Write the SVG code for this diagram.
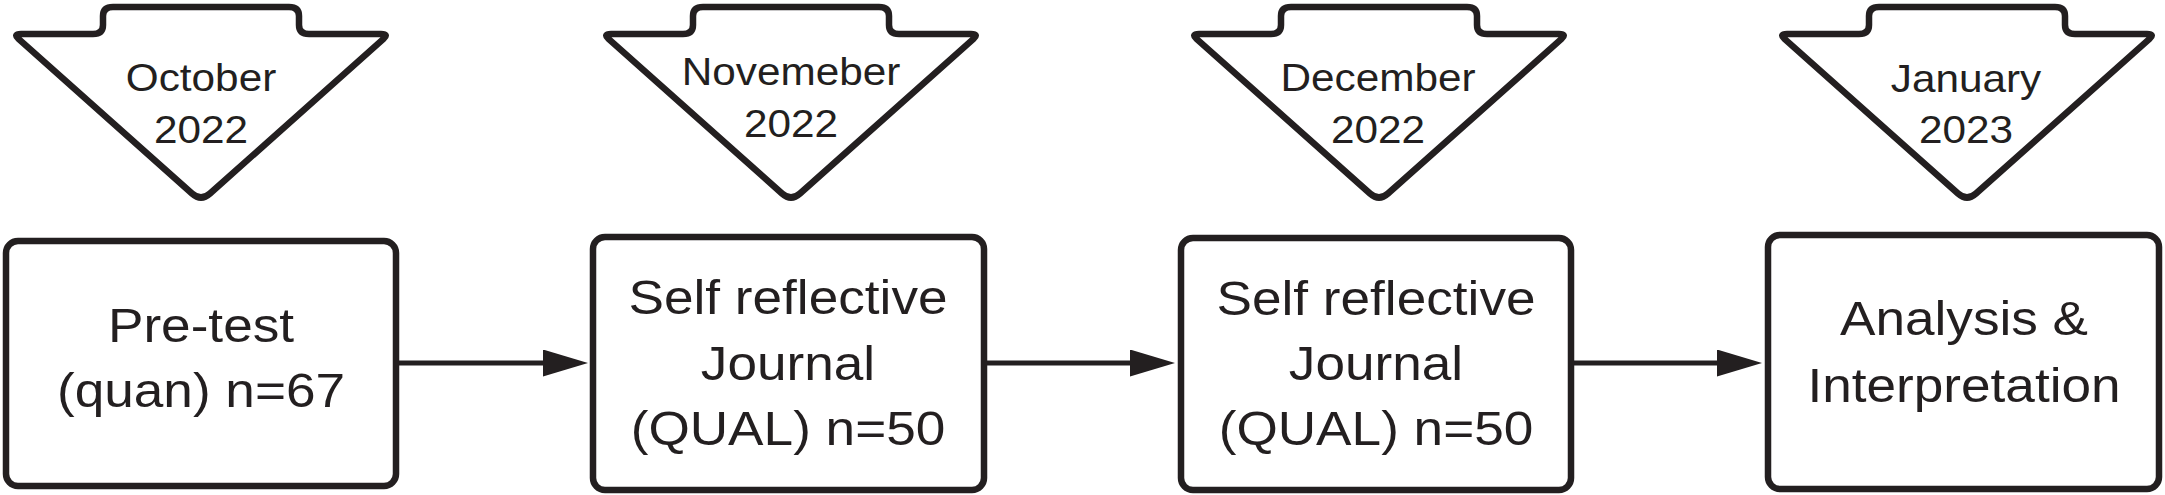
<svg xmlns="http://www.w3.org/2000/svg" width="2165" height="495" viewBox="0 0 2165 495">
<style>
.bg{fill:#ffffff}
.box{fill:#ffffff;stroke:#231f20;stroke-width:6.5}
.tab{fill:#ffffff;stroke:#231f20;stroke-width:6.5;stroke-linejoin:round}
.conn{fill:none;stroke:#231f20;stroke-width:5}
.t{font-family:"Liberation Sans",Arial,sans-serif;fill:#231f20;text-anchor:middle}
.main{font-size:49px}
.date{font-size:39px}
</style>
<defs>
<path id="pent" d="M -180,34 L -108,34 Q -98,34 -98,25 L -98,16 Q -98,7 -88,7 L 88,7 Q 98,7 98,16 L 98,25 Q 98,34 108,34 L 180,34 Q 188,34 182.5,38.9 L 9,193.5 Q 0,201.5 -9,193.5 L -182.5,38.9 Q -188,34 -180,34 Z"/>
<marker id="ah" markerUnits="userSpaceOnUse" markerWidth="45" markerHeight="27" refX="15" refY="13.5" orient="auto">
<path d="M0,0 L45,13.5 L0,27 Z" fill="#231f20"/>
</marker>
</defs>
<rect class="bg" x="0" y="0" width="2165" height="495"/>

<g id="connectors">
<path class="conn" d="M396,363 L558,363" marker-end="url(#ah)"/>
<path class="conn" d="M984,363 L1145,363" marker-end="url(#ah)"/>
<path class="conn" d="M1571,363 L1732,363" marker-end="url(#ah)"/>
</g>

<g id="date-oct">
<use href="#pent" class="tab" transform="translate(201,0)"/>
<text class="t date" transform="translate(201,91) scale(1.085 1)">October</text>
<text class="t date" transform="translate(201,143) scale(1.085 1)">2022</text>
</g>
<g id="date-nov">
<use href="#pent" class="tab" transform="translate(791,0)"/>
<text class="t date" transform="translate(791,85) scale(1.085 1)">Novemeber</text>
<text class="t date" transform="translate(791,137) scale(1.085 1)">2022</text>
</g>
<g id="date-dec">
<use href="#pent" class="tab" transform="translate(1379,0)"/>
<text class="t date" transform="translate(1378,91) scale(1.085 1)">December</text>
<text class="t date" transform="translate(1378,143) scale(1.085 1)">2022</text>
</g>
<g id="date-jan">
<use href="#pent" class="tab" transform="translate(1967,0)"/>
<text class="t date" transform="translate(1966,92) scale(1.085 1)">January</text>
<text class="t date" transform="translate(1966,143) scale(1.085 1)">2023</text>
</g>

<g id="pretest">
<rect class="box" x="6" y="241" width="390" height="245" rx="12"/>
<text class="t main" transform="translate(201,342) scale(1.085 1)">Pre-test</text>
<text class="t main" transform="translate(201,407) scale(1.085 1)">(quan) n=67</text>
</g>
<g id="journal1">
<rect class="box" x="593" y="237" width="391" height="253" rx="12"/>
<text class="t main" transform="translate(788,314) scale(1.085 1)">Self reflective</text>
<text class="t main" transform="translate(788,380) scale(1.085 1)">Journal</text>
<text class="t main" transform="translate(788,445) scale(1.085 1)">(QUAL) n=50</text>
</g>
<g id="journal2">
<rect class="box" x="1181" y="238" width="390" height="252" rx="12"/>
<text class="t main" transform="translate(1376,315) scale(1.085 1)">Self reflective</text>
<text class="t main" transform="translate(1376,380) scale(1.085 1)">Journal</text>
<text class="t main" transform="translate(1376,445) scale(1.085 1)">(QUAL) n=50</text>
</g>
<g id="analysis">
<rect class="box" x="1768" y="235" width="391" height="254" rx="12"/>
<text class="t main" transform="translate(1964,335) scale(1.085 1)">Analysis &amp;</text>
<text class="t main" transform="translate(1964,402) scale(1.085 1)">Interpretation</text>
</g>
</svg>
